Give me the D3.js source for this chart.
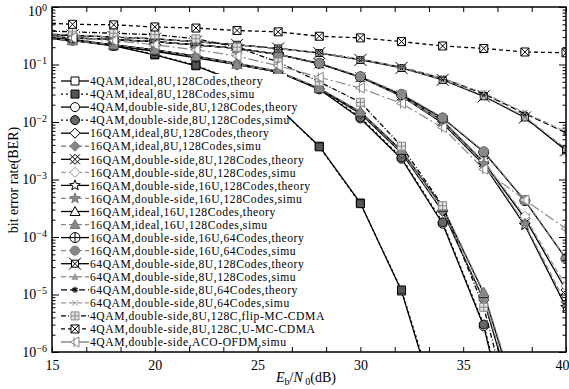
<!DOCTYPE html>
<html>
<head>
<meta charset="utf-8">
<script src="https://cdn.jsdelivr.net/npm/d3@7"></script>
<style>
  body { margin: 0; background: #fff; }
  svg { display: block; font-family: "Liberation Serif", "Times New Roman", serif; }
</style>
</head>
<body>
<svg id="chart" width="569" height="389"></svg>
<script>
// Eb/N0 points (dB)
const ebn0 = [15, 16, 18, 20, 22, 24, 26, 28, 30, 32, 34, 36, 38, 40];

const legendLabels = [
  '4QAM,ideal,8U,128Codes,theory',
  '4QAM,ideal,8U,128Codes,simu',
  '4QAM,double-side,8U,128Codes,theory',
  '4QAM,double-side,8U,128Codes,simu',
  '16QAM,ideal,8U,128Codes,theory',
  '16QAM,ideal,8U,128Codes,simu',
  '16QAM,double-side,8U,128Codes,theory',
  '16QAM,double-side,8U,128Codes,simu',
  '16QAM,double-side,16U,128Codes,theory',
  '16QAM,double-side,16U,128Codes,simu',
  '16QAM,ideal,16U,128Codes,theory',
  '16QAM,ideal,16U,128Codes,simu',
  '16QAM,double-side,16U,64Codes,theory',
  '16QAM,double-side,16U,64Codes,simu',
  '64QAM,double-side,8U,128Codes,theory',
  '64QAM,double-side,8U,128Codes,simu',
  '64QAM,double-side,8U,64Codes,theory',
  '64QAM,double-side,8U,64Codes,simu',
  '4QAM,double-side,8U,128C,flip-MC-CDMA',
  '4QAM,double-side,8U,128C,U-MC-CDMA',
  '4QAM,double-side,ACO-OFDM,simu'
];

// BER values, one array per legend entry (same order as ebn0)
const qam4Ideal8uTheory = [0.30, 0.27, 0.21, 0.147, 0.095, 0.05, 0.018, 3.8e-3, 3.9e-4, 1.15e-5, 5e-8];
const qam4Ideal8uSimu = [0.31, 0.28, 0.215, 0.15, 0.097, 0.051, 0.018, 3.7e-3, 3.8e-4, 1.2e-5, 6e-8];
const qam4Ds8uTheory = [0.28, 0.26, 0.21, 0.17, 0.13, 0.10, 0.074, 0.037, 0.0115, 2.3e-3, 1.7e-4, 2.8e-6, 3e-9];
const qam4Ds8uSimu = [0.29, 0.27, 0.215, 0.175, 0.135, 0.10, 0.075, 0.038, 0.012, 2.4e-3, 1.8e-4, 3e-6, 4e-9];
const qam16Ideal8uTheory = [0.29, 0.27, 0.22, 0.18, 0.14, 0.105, 0.076, 0.038, 0.014, 2.9e-3, 2.8e-4, 8e-6, 3e-8];
const qam16Ideal8uSimu = [0.30, 0.28, 0.22, 0.18, 0.14, 0.106, 0.077, 0.039, 0.0145, 3e-3, 2.9e-4, 8.5e-6, 4e-8];
const qam16Ds8uTheory = [0.30, 0.29, 0.27, 0.25, 0.22, 0.19, 0.15, 0.104, 0.06, 0.029, 0.0105, 2e-3, 2.1e-4, 1.2e-5];
const qam16Ds8uSimu = [0.31, 0.29, 0.27, 0.25, 0.22, 0.19, 0.15, 0.105, 0.061, 0.029, 0.0108, 2.1e-3, 2.3e-4, 1.4e-5];
const qam16Ds16uTheory = [0.30, 0.29, 0.27, 0.25, 0.22, 0.19, 0.15, 0.104, 0.06, 0.028, 0.0095, 1.8e-3, 1.6e-4, 6e-6];
const qam16Ds16uSimu = [0.31, 0.29, 0.27, 0.25, 0.22, 0.19, 0.15, 0.104, 0.06, 0.028, 0.0098, 1.9e-3, 1.7e-4, 7e-6];
const qam16Ideal16uTheory = [0.28, 0.26, 0.22, 0.18, 0.14, 0.10, 0.074, 0.038, 0.015, 3.2e-3, 3.3e-4, 1.05e-5, 5e-8];
const qam16Ideal16uSimu = [0.28, 0.26, 0.22, 0.18, 0.14, 0.10, 0.075, 0.039, 0.0152, 3.3e-3, 3.4e-4, 1.1e-5, 6e-8];
const qam16Ds16u64Theory = [0.30, 0.29, 0.27, 0.25, 0.22, 0.19, 0.15, 0.105, 0.061, 0.030, 0.0117, 3e-3, 4.3e-4, 4.2e-5];
const qam16Ds16u64Simu = [0.31, 0.30, 0.27, 0.25, 0.22, 0.19, 0.15, 0.106, 0.062, 0.031, 0.012, 3.1e-3, 4.4e-4, 4.3e-5];
const qam64Ds8uTheory = [0.33, 0.32, 0.30, 0.28, 0.25, 0.22, 0.19, 0.158, 0.12, 0.087, 0.054, 0.028, 0.012, 3.2e-3];
const qam64Ds8uSimu = [0.34, 0.32, 0.30, 0.28, 0.25, 0.22, 0.19, 0.16, 0.122, 0.088, 0.055, 0.029, 0.0125, 3.4e-3];
const qam64Ds8u64Theory = [0.33, 0.32, 0.30, 0.28, 0.25, 0.22, 0.19, 0.16, 0.123, 0.09, 0.057, 0.031, 0.014, 6.5e-3];
const qam64Ds8u64Simu = [0.34, 0.33, 0.30, 0.28, 0.25, 0.22, 0.19, 0.16, 0.124, 0.091, 0.058, 0.032, 0.0145, 6.8e-3];
const flipMcCdma = [0.38, 0.37, 0.35, 0.33, 0.28, 0.20, 0.11, 0.05, 0.022, 3.8e-3, 3.5e-4, 6e-6, 1e-8];
const uMcCdma = [0.52, 0.50, 0.49, 0.45, 0.43, 0.39, 0.37, 0.31, 0.29, 0.25, 0.21, 0.19, 0.165, 0.16];
const acoOfdm = [0.30, 0.29, 0.26, 0.22, 0.18, 0.14, 0.095, 0.06, 0.039, 0.021, 8e-3, 1.5e-3, 4.4e-4, 1.4e-4];

const xTickLabels = [15, 20, 25, 30, 35, 40];
const yDecades = [-6, -5, -4, -3, -2, -1, 0];

const seriesValues = [
  qam4Ideal8uTheory, qam4Ideal8uSimu, qam4Ds8uTheory, qam4Ds8uSimu,
  qam16Ideal8uTheory, qam16Ideal8uSimu, qam16Ds8uTheory, qam16Ds8uSimu,
  qam16Ds16uTheory, qam16Ds16uSimu, qam16Ideal16uTheory, qam16Ideal16uSimu,
  qam16Ds16u64Theory, qam16Ds16u64Simu, qam64Ds8uTheory, qam64Ds8uSimu,
  qam64Ds8u64Theory, qam64Ds8u64Simu, flipMcCdma, uMcCdma, acoOfdm
];

// line / marker look per legend entry
const styles = [
  { c: '#000', d: null, m: 'square', f: '#fff' },
  { c: '#000', d: '2,3', m: 'square', f: '#555' },
  { c: '#000', d: null, m: 'circle', f: '#fff' },
  { c: '#000', d: '2,3', m: 'circle', f: '#666' },
  { c: '#000', d: null, m: 'diamond', f: '#fff' },
  { c: '#888', d: '5,3', m: 'diamond', f: '#888', s: '#777' },
  { c: '#000', d: null, m: 'xdiamond', f: '#fff' },
  { c: '#999', d: '5,3', m: 'diamond', f: '#fff', s: '#999' },
  { c: '#000', d: null, m: 'star', f: '#fff' },
  { c: '#888', d: '5,3', m: 'star', f: '#888', s: '#777' },
  { c: '#000', d: null, m: 'triangle', f: '#fff' },
  { c: '#888', d: '5,3', m: 'triangle', f: '#888', s: '#777' },
  { c: '#000', d: null, m: 'oplus', f: '#fff' },
  { c: '#888', d: '5,3', m: 'circle', f: '#888', s: '#777' },
  { c: '#000', d: null, m: 'bowtie', f: '#fff' },
  { c: '#999', d: '5,3', m: 'smalltri', f: '#999', s: '#999' },
  { c: '#000', d: '6,3', m: 'hash', f: 'none' },
  { c: '#999', d: '5,3', m: 'x', f: 'none', s: '#999' },
  { c: '#000', d: '5,2,1,2', m: 'boxplus', f: '#e4e4e4', s: '#888' },
  { c: '#000', d: '4,3', m: 'boxx', f: '#fff' },
  { c: '#888', d: '10,3,2,3', m: 'ltri', f: '#fff', s: '#888' }
];

const svg = d3.select('#chart');
const margin = { left: 52, right: 3, top: 7, bottom: 37 };
const W = 569, H = 389;

const x = d3.scaleLinear().domain([15, 40]).range([margin.left, W - margin.right]);
const y = d3.scaleLog().domain([1e-6, 1]).range([H - margin.bottom, margin.top]);

svg.append('defs').append('clipPath').attr('id', 'plotclip')
  .append('rect')
  .attr('x', x(15)).attr('y', y(1))
  .attr('width', x(40) - x(15)).attr('height', y(1e-6) - y(1));

function markerPath(type) {
  switch (type) {
    case 'square': return 'M-4,-4H4V4H-4Z';
    case 'diamond': return 'M0,-5L5,0L0,5L-5,0Z';
    case 'xdiamond': return 'M0,-5L5,0L0,5L-5,0ZM-5,-5L5,5M5,-5L-5,5';
    case 'triangle': return 'M0,-5L5,4L-5,4Z';
    case 'smalltri': return 'M0,-3L3,2.5L-3,2.5Z';
    case 'bowtie': return 'M-3.5,-3.5H3.5V3.5H-3.5ZM-6,-6L6,6M6,-6L-6,6';
    case 'hash': return 'M-1,-3V3M1,-3V3M-3,-1H3M-3,1H3';
    case 'x': return 'M-3,-3L3,3M3,-3L-3,3';
    case 'boxplus': return 'M-4,-4H4V4H-4ZM0,-4V4M-4,0H4';
    case 'boxx': return 'M-4,-4H4V4H-4ZM-4,-4L4,4M4,-4L-4,4';
    case 'ltri': return 'M-5,0L4,-5L4,5ZM-1,-5V5';
    case 'star': {
      const pts = d3.range(10).map(i => {
        const r = i % 2 ? 2.3 : 5.5;
        const a = -Math.PI / 2 + i * Math.PI / 5;
        return [r * Math.cos(a), r * Math.sin(a)];
      });
      return 'M' + pts.map(p => p[0].toFixed(2) + ',' + p[1].toFixed(2)).join('L') + 'Z';
    }
    case 'oplus': return 'M-5,0A5,5 0 1,0 5,0A5,5 0 1,0 -5,0ZM0,-5V5M-5,0H5';
    default: return 'M-4.5,0A4.5,4.5 0 1,0 4.5,0A4.5,4.5 0 1,0 -4.5,0Z';
  }
}

function drawMarker(g, st, px, py) {
  g.append('path')
    .attr('d', markerPath(st.m))
    .attr('transform', `translate(${px},${py})`)
    .attr('fill', st.f)
    .attr('stroke', st.s || '#000')
    .attr('stroke-width', 1);
}

const line = d3.line().x(d => x(d[0])).y(d => y(d[1]));
const plot = svg.append('g').attr('clip-path', 'url(#plotclip)');

seriesValues.forEach((vals, i) => {
  const st = styles[i];
  const pts = vals.map((v, j) => [ebn0[j], v]);
  plot.append('path')
    .attr('d', line(pts))
    .attr('fill', 'none')
    .attr('stroke', st.c)
    .attr('stroke-width', st.c === '#000' ? 1.3 : 1.2)
    .attr('stroke-dasharray', st.d);
});

seriesValues.forEach((vals, i) => {
  const st = styles[i];
  vals.forEach((v, j) => {
    if (ebn0[j] < 16 || v < 1e-6) return;
    drawMarker(plot, st, x(ebn0[j]), y(v));
  });
});

// legend (white box over the curves)
const legend = svg.append('g');
const rowH = 13.05, row0 = 81;
legend.append('rect')
  .attr('x', 57).attr('y', row0 - 7)
  .attr('width', 230).attr('height', rowH * 20 + 14)
  .attr('fill', '#fff');

legendLabels.forEach((label, i) => {
  const st = styles[i];
  const cy = row0 + i * rowH;
  legend.append('line')
    .attr('x1', 61).attr('x2', 89).attr('y1', cy).attr('y2', cy)
    .attr('stroke', st.c).attr('stroke-width', 1.3)
    .attr('stroke-dasharray', st.d);
  drawMarker(legend, st, 75, cy);
  legend.append('text')
    .attr('x', 90).attr('y', cy + 4.2)
    .attr('font-size', 11.6)
    .attr('letter-spacing', 0.55)
    .text(label);
});

// axes
const xTicks = d3.range(0, 16).map(k => 15 + k * 5 / 3);
const yMinor = [];
for (let e = -6; e < 0; e++) for (let m = 2; m <= 9; m++) yMinor.push(m * Math.pow(10, e));

const axisFont = g => g.attr('font-family', null).attr('font-size', 14)
  .call(s => s.select('.domain').remove())
  .call(s => s.selectAll('line').attr('stroke', '#000'));

svg.append('g')
  .attr('transform', `translate(0,${y(1e-6)})`)
  .call(d3.axisBottom(x).tickValues(xTicks).tickSize(-5).tickPadding(8)
    .tickFormat(v => xTickLabels.some(t => Math.abs(t - v) < 1e-6) ? d3.format('d')(Math.round(v)) : ''))
  .call(axisFont)
  .call(g => g.selectAll('text').attr('fill', '#000')
    .attr('dx', d => (Math.abs(d - 40) < 1e-6 ? -4 : 0)));

svg.append('g')
  .attr('transform', `translate(0,${y(1)})`)
  .call(d3.axisTop(x).tickValues(xTicks).tickSize(-5).tickFormat(''))
  .call(axisFont);

const majorY = yDecades.map(e => Math.pow(10, e));
const yLeft = svg.append('g')
  .attr('transform', `translate(${x(15)},0)`)
  .call(d3.axisLeft(y).tickValues(majorY).tickSize(-7).tickPadding(5).tickFormat(''))
  .call(axisFont);
yLeft.selectAll('.tick text')
  .attr('fill', '#000')
  .attr('dy', d => (d === 1 ? '0.6em' : '0.32em'))
  .each(function (d) {
    const t = d3.select(this);
    const e = Math.round(Math.log10(d));
    t.append('tspan').text('10');
    t.append('tspan').attr('dy', -5).attr('font-size', 10).text(e === 0 ? '0' : '\u2212' + Math.abs(e));
  });

svg.append('g')
  .attr('transform', `translate(${x(15)},0)`)
  .call(d3.axisLeft(y).tickValues(yMinor).tickSize(-3.5).tickFormat(''))
  .call(axisFont);
svg.append('g')
  .attr('transform', `translate(${x(40)},0)`)
  .call(d3.axisRight(y).tickValues(majorY).tickSize(-7).tickFormat(''))
  .call(axisFont);
svg.append('g')
  .attr('transform', `translate(${x(40)},0)`)
  .call(d3.axisRight(y).tickValues(yMinor).tickSize(-3.5).tickFormat(''))
  .call(axisFont);

// frame
svg.append('rect')
  .attr('x', x(15)).attr('y', y(1))
  .attr('width', x(40) - x(15)).attr('height', y(1e-6) - y(1))
  .attr('fill', 'none').attr('stroke', '#000').attr('stroke-width', 1.5);

// axis titles
const xt = svg.append('text')
  .attr('x', 306).attr('y', 382)
  .attr('text-anchor', 'middle').attr('font-size', 14);
xt.append('tspan').attr('font-style', 'italic').text('E');
xt.append('tspan').attr('font-size', 10).attr('dy', 3).text('b');
xt.append('tspan').attr('dy', -3).text('/');
xt.append('tspan').attr('font-style', 'italic').text('N');
xt.append('tspan').attr('font-size', 10).attr('dy', 3).text(' 0');
xt.append('tspan').attr('dy', -3).text('(dB)');

svg.append('text')
  .attr('transform', 'translate(18,180) rotate(-90)')
  .attr('text-anchor', 'middle').attr('font-size', 14)
  .text('bit error rate(BER)');
</script>
</body>
</html>
